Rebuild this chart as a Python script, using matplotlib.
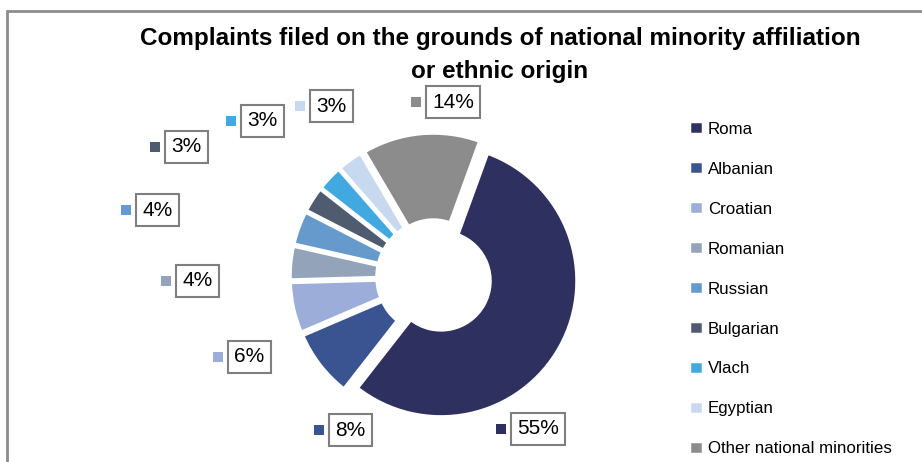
import matplotlib
matplotlib.use("Agg")
from matplotlib import pyplot as plt
from matplotlib import font_manager
from matplotlib.patches import Rectangle

groups = ["Roma", "Albanian", "Croatian", "Romanian", "Russian",
          "Bulgarian", "Vlach", "Egyptian", "Other national minorities"]
shares = [55, 8, 6, 4, 4, 3, 3, 3, 14]
colors = ["#2e3160", "#3a5491", "#9badd8", "#93a3b9", "#6699cc",
          "#4f5b6f", "#41a9e0", "#c6d9ef", "#8c8c8c"]

# where each value box sits (key square centre, pixels from top-left)
label_keys = [(501, 429), (319, 430), (218, 357), (166, 281), (126, 210),
              (155, 147), (231, 121), (300, 106), (416, 102)]

W, H = 922, 462

names = {f.name for f in font_manager.fontManager.ttflist}
narrow = "Liberation Sans Narrow" if "Liberation Sans Narrow" in names else "Liberation Sans"
plt.rcParams['font.family'] = [narrow, 'DejaVu Sans']

fig = plt.figure(figsize=(W / 100, H / 100), dpi=100)
ax = fig.add_axes([0, 0, 1, 1])

# explode is in data units here (pixels)
wedges, _ = ax.pie(shares, colors=colors, startangle=70, counterclock=False,
                   center=(434, H - 277), radius=136,
                   explode=[8] * len(shares),
                   wedgeprops=dict(width=87, edgecolor="white", linewidth=2.5))
ax.set_xlim(0, W)
ax.set_ylim(0, H)
ax.set_aspect("equal")
ax.axis("off")

# value boxes with a colour key on the left
for (kx, ky), v, c in zip(label_keys, shares, colors):
    y = H - ky
    ax.add_patch(Rectangle((kx - 5, y - 5), 10, 10, facecolor=c, edgecolor="none"))
    ax.text(kx + 16, y, f"{v}%", ha="left", va="center", fontsize=15,
            bbox=dict(boxstyle="square,pad=0.3", facecolor="white",
                      edgecolor="#7f7f7f", linewidth=1.5))

# outer frame (only top and left are visible)
ax.plot([7, 7, W + 5], [-5, H - 11, H - 11], color="#8c8c8c", linewidth=2,
        solid_joinstyle="miter", clip_on=False)

fig.text(500 / W, 1 - 55 / H,
         "Complaints filed on the grounds of national minority affiliation\nor ethnic origin",
         ha="center", va="center", fontsize=17.5, fontweight="bold", linespacing=1.6)

fig.legend(wedges, groups, loc="upper left", bbox_to_anchor=(681 / W, 1 - 113 / H),
           frameon=False, fontsize=12.2, handlelength=0.8, handleheight=0.8,
           handletextpad=0.3, labelspacing=1.45, borderpad=0)

fig.savefig("out.png", dpi=100)
